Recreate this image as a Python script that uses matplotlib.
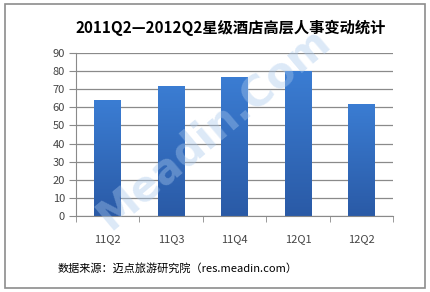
import numpy as np
import matplotlib
matplotlib.use('Agg')
import matplotlib.pyplot as plt
from matplotlib.patches import Rectangle

plt.rcParams['font.family'] = ['Noto Sans CJK SC', 'DejaVu Sans']

# Data
quarters = ['11Q2', '11Q3', '11Q4', '12Q1', '12Q2']
changes = [64, 72, 77, 80, 62]
title = '2011Q2—2012Q2星级酒店高层人事变动统计'
source = '数据来源：迈点旅游研究院（res.meadin.com）'

fig = plt.figure(figsize=(4.30, 2.92), dpi=100)
fig.patch.set_facecolor('white')

# outer border
fig.add_artist(Rectangle((5 / 430, 4 / 292), 420 / 430, 284 / 292, transform=fig.transFigure,
                         fill=False, edgecolor='#8c8c8c', linewidth=1.2))

ax = fig.add_axes([76 / 430, 1 - 216 / 292, 317 / 430, 163 / 292])
x = np.arange(len(quarters))
bars = ax.bar(x, changes, width=0.42, color='#3470c0', zorder=2)

# vertical gradient inside each bar
grad = np.linspace(0, 1, 256).reshape(-1, 1)
cmap = matplotlib.colors.LinearSegmentedColormap.from_list('b', ['#2a5aa6', '#3b7dd3'])
for b in bars:
    im = ax.imshow(grad, cmap=cmap, origin='lower', aspect='auto', zorder=2.5,
                   extent=[b.get_x(), b.get_x() + b.get_width(), 0, b.get_height()])
    im.set_clip_path(b)

ax.set_xlim(-0.5, len(quarters) - 0.5)
ax.set_ylim(0, 90)
ax.set_yticks(range(0, 91, 10))
ax.yaxis.grid(True, color='#8a8a8a', linewidth=0.9, zorder=0)
ax.set_axisbelow(True)

ax.set_xticks(x)
ax.set_xticklabels(quarters)
ax.set_xticks(np.arange(-0.5, len(quarters), 1), minor=True)
ax.tick_params(axis='x', which='major', length=0, pad=13, labelsize=8, labelcolor='#444444')
ax.tick_params(axis='x', which='minor', length=4, color='#8a8a8a', direction='out')
ax.tick_params(axis='y', length=5, color='#8a8a8a', labelsize=8, labelcolor='#444444', pad=3)

for s in ['top', 'right']:
    ax.spines[s].set_visible(False)
ax.spines['left'].set_color('#8a8a8a')
ax.spines['bottom'].set_color('#8a8a8a')

fig.text(231 / 430, 1 - 28 / 292, title, ha='center', va='center', fontsize=11, fontweight='bold')
fig.text(58 / 430, 1 - 268 / 292, source, ha='left', va='center', fontsize=8)

# watermark
fig.text(0.495, 0.56, 'Meadin.Com', ha='center', va='center', fontsize=30, fontweight='bold',
         rotation=40, color='#a9c8ec', alpha=0.4, family='DejaVu Sans', zorder=10)

fig.savefig('out.png', dpi=100)
